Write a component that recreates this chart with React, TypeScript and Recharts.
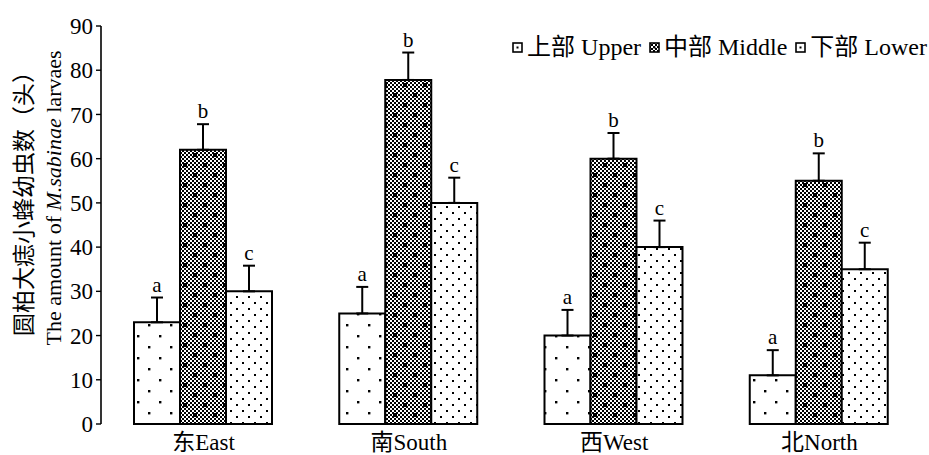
import React from 'react';
import { BarChart, Bar, XAxis, YAxis, ErrorBar, LabelList, Label } from 'recharts';

// Crown positions around the tree
const categories = ['东East', '南South', '西West', '北North'];

// Mean larvae counts per crown layer
const upperValues = [23, 25, 20, 11];
const middleValues = [62, 77.8, 60, 55];
const lowerValues = [30, 50, 40, 35];

// Standard errors (upper whisker only)
const upperErrors = [5.6, 6, 5.8, 5.7];
const middleErrors = [5.8, 6.2, 5.8, 6.2];
const lowerErrors = [5.8, 5.7, 6, 6];

// Significance letters
const upperLetters = ['a', 'a', 'a', 'a'];
const middleLetters = ['b', 'b', 'b', 'b'];
const lowerLetters = ['c', 'c', 'c', 'c'];

const yTicks = [0, 10, 20, 30, 40, 50, 60, 70, 80, 90];
const boundaryTicks = [1, 2, 3, 4];

const seriesNames = ['上部 Upper', '中部 Middle', '下部 Lower'];

const FONT = "'Liberation Serif', 'Times New Roman', 'Noto Sans CJK SC', serif";

const data = categories.map((name, i) => ({
  name,
  upper: upperValues[i],
  middle: middleValues[i],
  lower: lowerValues[i],
  upperErr: [0, upperErrors[i]],
  middleErr: [0, middleErrors[i]],
  lowerErr: [0, lowerErrors[i]],
  upperSig: upperLetters[i],
  middleSig: middleLetters[i],
  lowerSig: lowerLetters[i],
}));

const errorsByKey: Record<string, number[]> = {
  upper: upperErrors,
  middle: middleErrors,
  lower: lowerErrors,
};

// Letter drawn just above the error-bar cap
const makeLetter = (key: string) => (props: any) => {
  const { x, y, width, height, value, index } = props;
  const v = data[index][key as 'upper'];
  const err = errorsByKey[key][index];
  const pxPerUnit = Math.abs(Number(height)) / v;
  const capY = Number(y) - err * pxPerUnit;
  return (
    <text
      x={Number(x) + Number(width) / 2}
      y={capY - 6}
      textAnchor="middle"
      fontFamily={FONT}
      fontSize={21}
      fill="#000"
    >
      {value}
    </text>
  );
};

const EmptyTick = () => <g />;

const YTitle = (props: any) => {
  const vb = props.viewBox || {};
  const cy = 198;
  const x1 = (vb.x ?? 40) - 17;
  const x2 = (vb.x ?? 40) + 12;
  return (
    <g fontFamily={FONT} fill="#000">
      <text
        x={x1}
        y={cy}
        transform={`rotate(-90 ${x1} ${cy})`}
        textAnchor="middle"
        dominantBaseline="central"
        fontSize={23}
      >
        圆柏大痣小蜂幼虫数（头）
      </text>
      <text
        x={x2}
        y={cy}
        transform={`rotate(-90 ${x2} ${cy})`}
        textAnchor="middle"
        dominantBaseline="central"
        fontSize={22}
      >
        The amount of <tspan fontStyle="italic">M.sabinae</tspan> larvaes
      </text>
    </g>
  );
};

const LegendIcon = ({ kind }: { kind: number }) => (
  <svg width={11} height={11} style={{ display: 'block' }}>
    <defs>
      <pattern id={`lg-check-${kind}`} width={4} height={4} patternUnits="userSpaceOnUse">
        <rect width={4} height={4} fill="#fff" />
        <rect width={2} height={2} fill="#000" />
        <rect x={2} y={2} width={2} height={2} fill="#000" />
      </pattern>
    </defs>
    <rect
      x={1}
      y={1}
      width={9}
      height={9}
      fill={kind === 1 ? `url(#lg-check-${kind})` : '#fff'}
      stroke="#000"
      strokeWidth={1.6}
    />
    <rect x={4.5} y={4.5} width={2} height={2} fill="#000" />
  </svg>
);

const SeriesLegend = () => (
  <div
    style={{
      position: 'absolute',
      top: 34,
      right: 2,
      display: 'flex',
      alignItems: 'center',
      fontFamily: FONT,
      fontSize: 24,
      lineHeight: '26px',
      color: '#000',
      whiteSpace: 'nowrap',
    }}
  >
    {seriesNames.map((n, i) => (
      <div key={n} style={{ display: 'flex', alignItems: 'center', marginLeft: i === 0 ? 0 : 8 }}>
        <LegendIcon kind={i} />
        <span style={{ marginLeft: 4 }}>{n}</span>
      </div>
    ))}
  </div>
);

export default function App() {
  return (
    <div style={{ position: 'absolute', left: 0, top: 0, width: 929, height: 455, background: '#fff' }}>
      <BarChart
        width={929}
        height={455}
        data={data}
        margin={{ top: 26, right: 7, bottom: 1, left: 41 }}
        barCategoryGap={33}
        barGap={0}
      >
        <defs>
          <pattern id="pat-upper" width={22} height={22} patternUnits="userSpaceOnUse">
            <rect width={22} height={22} fill="#fff" />
            <rect x={5} y={5} width={2.4} height={2.4} fill="#000" />
            <rect x={16} y={16} width={2.4} height={2.4} fill="#000" />
          </pattern>
          <pattern id="pat-check" width={4} height={4} patternUnits="userSpaceOnUse">
            <rect width={4} height={4} fill="#fff" />
            <rect width={2} height={2} fill="#000" />
            <rect x={2} y={2} width={2} height={2} fill="#000" />
          </pattern>
          <pattern id="pat-middle" width={20} height={20} patternUnits="userSpaceOnUse">
            <rect width={20} height={20} fill="url(#pat-check)" />
            <path d="M4 3h2v1h1v2h-1v1h-2v-1h-1v-2h1z" fill="#000" />
            <path d="M14 13h2v1h1v2h-1v1h-2v-1h-1v-2h1z" fill="#000" />
          </pattern>
          <pattern id="pat-lower" width={12} height={12} patternUnits="userSpaceOnUse">
            <rect width={12} height={12} fill="#fff" />
            <rect x={2} y={2} width={2} height={2} fill="#000" />
            <rect x={8} y={8} width={2} height={2} fill="#000" />
          </pattern>
        </defs>

        <XAxis
          xAxisId="bounds"
          type="number"
          domain={[0, 4]}
          allowDataOverflow
          ticks={boundaryTicks}
          height={0}
          mirror
          tickSize={6}
          tick={<EmptyTick />}
          axisLine={{ stroke: '#000', strokeWidth: 1.6 }}
          tickLine={{ stroke: '#000', strokeWidth: 1.4 }}
        />
        <XAxis
          xAxisId="cat"
          dataKey="name"
          height={30}
          axisLine={false}
          tickLine={false}
          tickMargin={4}
          tick={{ fill: '#000', fontSize: 23, fontFamily: FONT }}
        />
        <YAxis
          width={60}
          domain={[0, 90]}
          ticks={yTicks}
          interval={0}
          tickSize={5}
          tickMargin={3}
          axisLine={{ stroke: '#000', strokeWidth: 1.6 }}
          tickLine={{ stroke: '#000', strokeWidth: 1.4 }}
          tick={{ fill: '#000', fontSize: 23, fontFamily: FONT }}
        >
          <Label content={<YTitle />} />
        </YAxis>

        <Bar
          xAxisId="cat"
          dataKey="upper"
          name={seriesNames[0]}
          fill="url(#pat-upper)"
          stroke="#000"
          strokeWidth={2}
          isAnimationActive={false}
        >
          <ErrorBar dataKey="upperErr" direction="y" width={6} stroke="#000" strokeWidth={2} />
          <LabelList dataKey="upperSig" content={makeLetter('upper')} />
        </Bar>
        <Bar
          xAxisId="cat"
          dataKey="middle"
          name={seriesNames[1]}
          fill="url(#pat-middle)"
          stroke="#000"
          strokeWidth={2}
          isAnimationActive={false}
        >
          <ErrorBar dataKey="middleErr" direction="y" width={6} stroke="#000" strokeWidth={2} />
          <LabelList dataKey="middleSig" content={makeLetter('middle')} />
        </Bar>
        <Bar
          xAxisId="cat"
          dataKey="lower"
          name={seriesNames[2]}
          fill="url(#pat-lower)"
          stroke="#000"
          strokeWidth={2}
          isAnimationActive={false}
        >
          <ErrorBar dataKey="lowerErr" direction="y" width={6} stroke="#000" strokeWidth={2} />
          <LabelList dataKey="lowerSig" content={makeLetter('lower')} />
        </Bar>
      </BarChart>
      <SeriesLegend />
    </div>
  );
}
